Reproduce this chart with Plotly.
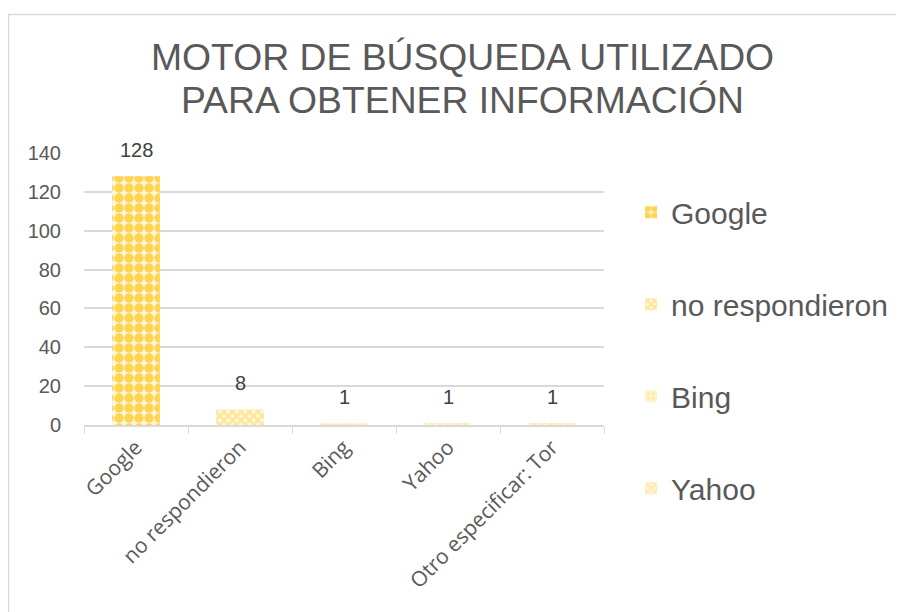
import plotly.graph_objects as go

categorias = ["Google", "no respondieron", "Bing", "Yahoo", "Otro especificar: Tor"]
valores = [128, 8, 1, 1, 1]
titulo = ["MOTOR DE BÚSQUEDA UTILIZADO", "PARA OBTENER INFORMACIÓN"]

# one pattern per bar, like the original chart
patrones = [".", "x", ".", "x", "/"]
colores = ["#FFD450", "#FFE28A", "#FFE9A6", "#FFE9A6", "#FFE9A6"]

fig = go.Figure()

for i, (cat, val) in enumerate(zip(categorias, valores)):
    fig.add_trace(go.Bar(
        x=[cat], y=[val], name=cat,
        marker=dict(
            color="white",
            line=dict(width=0),
            pattern=dict(shape=patrones[i], fgcolor=colores[i], bgcolor="#FFF6D9",
                         size=10 if i == 0 else 6, solidity=0.7 if i == 0 else 0.5,
                         fillmode="replace"),
        ),
        legendgroup=cat,
        showlegend=(i < 4),
    ))

for cat, val in zip(categorias, valores):
    fig.add_annotation(x=cat, y=val, text=str(val), showarrow=False,
                       yanchor="bottom", yshift=13,
                       font=dict(family="Liberation Sans, Arial", size=20, color="#404040"))

# two-line title placed by hand
for texto, ypos in zip(titulo, [1.353, 1.195]):
    fig.add_annotation(xref="paper", yref="paper", x=0.727, y=ypos, text=texto,
                       showarrow=False, xanchor="center", yanchor="middle",
                       font=dict(family="Liberation Sans, Arial", size=37.3, color="#595959"))

# outer frame of the chart area
fig.add_shape(type="rect", xref="paper", yref="paper",
              x0=-0.1452, x1=1.8, y0=-0.75, y1=1.509,
              line=dict(color="#D9D9D9", width=1.5), layer="below")

fig.update_layout(
    width=904, height=612,
    margin=dict(l=76, r=308, t=145, b=195),
    paper_bgcolor="white", plot_bgcolor="white",
    bargap=0.54,
    showlegend=True,
    legend=dict(x=1.052, xanchor="left", y=0.878, yanchor="top",
                font=dict(family="Liberation Sans, Arial", size=30, color="#595959"),
                tracegroupgap=50, traceorder="grouped", itemwidth=30, maxheight=560),
    xaxis=dict(type="category", tickangle=-45, showline=True, linecolor="#D9D9D9",
               linewidth=1.5, ticks="outside", tickson="boundaries", ticklen=7,
               tickcolor="#D9D9D9", showgrid=False,
               tickfont=dict(family="Open Sans", size=21, color="#595959")),
    yaxis=dict(range=[0, 140], dtick=20, showgrid=True, gridcolor="#D9D9D9",
               gridwidth=1.5, zeroline=False, showline=False, ticks="",
               ticklabelstandoff=22,
               tickfont=dict(family="Liberation Sans, Arial", size=20, color="#595959")),
)

fig.write_html("out.html")
